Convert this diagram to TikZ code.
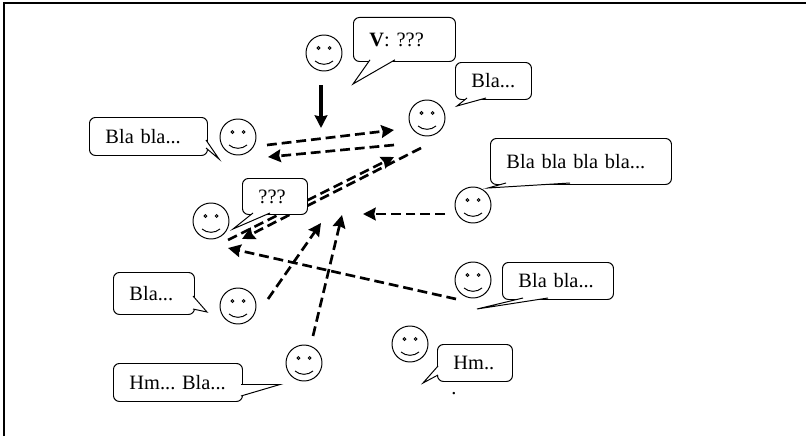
\documentclass[tikz,border=0pt]{standalone}
\usepackage{fontspec}
\setmainfont{Liberation Serif}
\usetikzlibrary{arrows.meta,positioning}

\begin{document}
\begin{tikzpicture}[
    bubble/.style={draw, line width=0.7pt, rounded corners=0.15cm, fill=white, anchor=north west, align=left, inner xsep=0.4cm, inner ysep=0pt, text width=#1, font=\fontsize{14.5}{17}\selectfont},
    tail/.style={draw, line width=0.7pt, fill=white, line join=miter},
    smiley/.style={circle, draw, line width=0.7pt, fill=white, minimum size=0.9cm, inner sep=0pt, path picture={
        \draw[line width=0.7pt, shift={(path picture bounding box.center)}] (-0.14,0.125) circle (0.035) (0.14,0.125) circle (0.035)
            (-0.225,-0.2) .. controls (-0.1,-0.31) and (0.1,-0.31) .. (0.225,-0.2);}},
    arrow/.style={-{Stealth[length=9pt,width=9pt,inset=1pt]}, line width=2.6pt},
    dasharrow/.style={arrow, line width=1.9pt, dash pattern=on 7pt off 3.5pt}
]
    \useasboundingbox (0,0) rectangle (20.15,10.9);
    \draw[line width=1.42pt] (0.1,0) -- (0.1,10.825) -- (20.15,10.825);

    % arrow ends
    \coordinate (voteA) at (8.025,8.775);
    \coordinate (voteB) at (8.025,7.7);
    \coordinate (talkA) at (6.675,7.275);
    \coordinate (talkB) at (9.85,7.65);
    \coordinate (backA) at (9.85,7.275);
    \coordinate (backB) at (6.7,6.975);
    \coordinate (askA) at (5.7,4.9);
    \coordinate (askB) at (9.85,6.975);
    \coordinate (replyA) at (10.525,7.2);
    \coordinate (replyB) at (6.05,4.925);
    \coordinate (rightA) at (11.125,5.55);
    \coordinate (rightB) at (9.075,5.55);
    \coordinate (longA) at (11.4,3.425);
    \coordinate (longB) at (5.7,4.7);
    \coordinate (lowA) at (6.7,3.425);
    \coordinate (lowB) at (8.025,5.325);
    \coordinate (hmA) at (7.825,2.5);
    \coordinate (hmB) at (8.55,5.525);

    \draw[arrow] (voteA) -- (voteB);
    \draw[dasharrow] (talkA) -- (talkB);
    \draw[dasharrow] (backA) -- (backB);
    \draw[dasharrow] (askA) -- (askB);
    \draw[dasharrow] (replyA) -- (replyB);
    \draw[dasharrow] (rightA) -- (rightB);
    \draw[dasharrow] (longA) -- (longB);
    \draw[dasharrow] (lowA) -- (lowB);
    \draw[dasharrow] (hmA) -- (hmB);

    \node[smiley] (smTop) at (8.1,9.575) {};
    \node[smiley] (smBla) at (10.675,7.95) {};
    \node[smiley] (smLeft) at (5.95,7.475) {};
    \node[smiley] (smAsk) at (5.275,5.375) {};
    \node[smiley] (smRight) at (11.825,5.775) {};
    \node[smiley] (smLong) at (11.825,3.9) {};
    \node[smiley] (smHm) at (10.25,2.3) {};
    \node[smiley] (smLow) at (5.95,3.25) {};
    \node[smiley] (smHmBla) at (7.6,1.825) {};

    \node[bubble=1.75cm, minimum height=1.1cm] (bVote) at (8.825,10.475) {\raisebox{-3.5pt}{\textbf{V}: ???}};
    \draw[tail] (9.25,9.405) -- (8.825,8.8) -- (9.875,9.405);
    \node[bubble=1.1cm, minimum height=0.925cm] (bBla) at (11.375,9.35) {Bla...};
    \draw[tail] (11.675,8.45) -- (11.425,8.25) -- (12.15,8.45);
    \node[bubble=3.725cm, minimum height=1.15cm] (bLong) at (12.25,7.45) {Bla bla bla bla...};
    \draw[tail] (12.65,6.325) -- (12.2,6.2) -- (14.25,6.325);
    \node[bubble=2.15cm, minimum height=0.95cm] (bLeft) at (2.225,7.975) {Bla bla...};
    \draw[tail] (5.15,7.4) -- (5.475,6.925) -- (5.15,7.2);
    \node[bubble=0.825cm, minimum height=0.9cm] (bAsk) at (6.05,6.45) {\raisebox{-1pt}{???}};
    \draw[tail] (6.325,5.575) -- (5.825,5.175) -- (6.75,5.575);
    \node[bubble=1.225cm, minimum height=1.05cm] (bLow) at (2.825,4.1) {Bla...};
    \draw[tail] (4.825,3.5) -- (5.175,3.1) -- (4.825,3.175);
    \node[bubble=2.425cm, minimum height=0.95cm] (bHmBla) at (2.825,1.825) {Hm...~Bla...};
    \draw[tail] (6.025,1.2875) -- (7,1.2875) -- (6.025,1);
    \node[bubble=1.975cm, minimum height=0.925cm] (bTwo) at (12.55,4.35) {Bla bla...};
    \draw[tail] (13.075,3.45) -- (11.925,3.175) -- (13.7,3.45);
    \node[bubble=1.075cm, minimum height=0.925cm] (bHm) at (10.925,2.3) {Hm..};
    \draw[tail] (10.95,1.75) -- (10.575,1.325) -- (10.95,1.525);

    \node[inner sep=0pt, font=\fontsize{14.5}{17}\selectfont] (dot) at (11.35,1.05) {.};
\end{tikzpicture}
\end{document}
